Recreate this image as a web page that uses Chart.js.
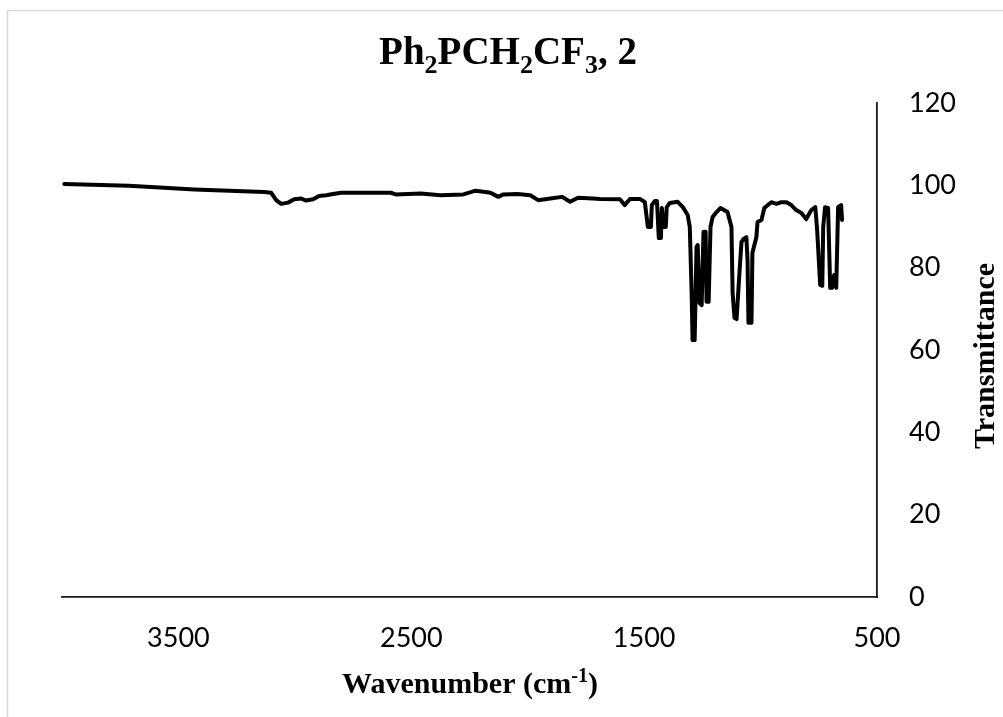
<!DOCTYPE html>
<html>
<head>
<meta charset="utf-8">
<script src="https://cdn.jsdelivr.net/npm/chart.js@4.4.1/dist/chart.umd.min.js"></script>
<style>
  body { margin: 0; background: #fff; overflow: hidden; }
  #wrap { width: 1003px; height: 717px; position: relative; }
</style>
</head>
<body>
<div id="wrap"><canvas id="ir"></canvas></div>
<script>
// IR spectrum (cm-1 / %T)
const wavenumber = [
  3990, 3713, 3431, 3132, 3102, 3080, 3059, 3029, 3003, 2973, 2952, 2922, 2896, 2866, 2836, 2802,
  2588, 2567, 2460, 2374, 2276, 2224, 2182, 2160, 2126, 2105, 2045, 1989, 1955, 1903, 1852, 1818,
  1784, 1720, 1690, 1604, 1583, 1561, 1518, 1497, 1484, 1471, 1467, 1454, 1445, 1437, 1428, 1424,
  1416, 1407, 1403, 1390, 1356, 1334, 1313, 1304, 1296, 1292, 1283, 1275, 1270, 1262, 1253, 1245,
  1236, 1232, 1223, 1215, 1206, 1189, 1172, 1142, 1125, 1120, 1112, 1103, 1090, 1082, 1073, 1061,
  1056, 1052, 1039, 1035, 1018, 1013, 996, 984, 954, 932, 911, 889, 868, 847, 825, 804,
  782, 765, 757, 744, 735, 731, 723, 710, 701, 693, 684, 675, 667, 654, 650
];
const transmittance = [
  100.3, 99.9, 99.0, 98.4, 98.2, 96.4, 95.5, 95.8, 96.6, 96.8, 96.3, 96.6, 97.4, 97.6, 97.9, 98.2,
  98.2, 97.8, 98.0, 97.6, 97.8, 98.7, 98.4, 98.2, 97.2, 97.8, 97.9, 97.6, 96.4, 96.8, 97.2, 96.0,
  97.0, 96.8, 96.7, 96.6, 95.2, 96.7, 96.7, 95.9, 89.9, 89.9, 95.2, 96.2, 96.2, 87.2, 87.2, 94.5,
  89.9, 89.9, 94.7, 95.7, 96.0, 94.7, 92.8, 89.9, 73.8, 62.4, 62.4, 85.0, 85.5, 71.4, 70.9, 88.7,
  88.7, 71.7, 71.7, 89.9, 92.3, 93.5, 94.5, 93.5, 89.9, 73.8, 67.8, 67.5, 79.4, 86.2, 87.0, 87.4,
  81.9, 66.6, 66.6, 83.6, 87.4, 91.1, 91.6, 94.5, 95.9, 95.5, 95.9, 95.9, 95.2, 94.0, 93.3, 91.8,
  94.0, 94.7, 89.1, 75.8, 75.6, 89.9, 94.7, 94.5, 75.1, 75.1, 78.2, 75.1, 94.7, 95.2, 91.6
];
const xTicks = [3500, 2500, 1500, 500];
const yTicks = [0, 20, 40, 60, 80, 100, 120];

const serif = "'Liberation Serif', 'Times New Roman', serif";
const sans = "Lato, 'Open Sans', sans-serif";

// draw a string made of normal / sub / sup pieces, centred on cx
function richText(ctx, parts, cx, baseY, size) {
  const small = Math.round(size * 0.66);
  let total = 0;
  parts.forEach(p => {
    ctx.font = "bold " + (p.s ? small : size) + "px " + serif;
    p.w = ctx.measureText(p.t).width;
    total += p.w;
  });
  let x = cx - total / 2;
  ctx.textBaseline = "alphabetic";
  ctx.textAlign = "left";
  parts.forEach(p => {
    ctx.font = "bold " + (p.s ? small : size) + "px " + serif;
    let dy = 0;
    if (p.s === "sub") dy = size * 0.24;
    if (p.s === "sup") dy = -size * 0.36;
    ctx.fillText(p.t, x, baseY + dy);
    x += p.w;
  });
}

const labels = {
  id: "labels",
  beforeDraw(chart) {
    const ctx = chart.ctx;
    ctx.save();
    ctx.strokeStyle = "#d9d9d9";
    ctx.lineWidth = 1.5;
    ctx.strokeRect(7.5, 10.5, 1100, 800);
    ctx.restore();
  },
  afterDraw(chart) {
    const ctx = chart.ctx;
    ctx.save();
    ctx.fillStyle = "#000";
    richText(ctx, [
      { t: "Ph" }, { t: "2", s: "sub" }, { t: "PCH" }, { t: "2", s: "sub" },
      { t: "CF" }, { t: "3", s: "sub" }, { t: ", 2" }
    ], 508, 64, 39);
    richText(ctx, [
      { t: "Wavenumber (cm" }, { t: "-1", s: "sup" }, { t: ")" }
    ], 470, 693, 30);
    ctx.translate(994, 356);
    ctx.rotate(-Math.PI / 2);
    richText(ctx, [{ t: "Transmittance" }], 0, 0, 30);
    ctx.restore();
  }
};

new Chart(document.getElementById("ir"), {
  type: "line",
  data: {
    datasets: [{
      data: wavenumber.map((w, i) => ({ x: w, y: transmittance[i] })),
      borderColor: "#000",
      borderWidth: 4,
      borderJoinStyle: "round",
      borderCapStyle: "round",
      pointRadius: 0,
      tension: 0,
      fill: false
    }]
  },
  options: {
    responsive: true,
    maintainAspectRatio: false,
    animation: false,
    layout: { padding: { left: 62, top: 103, right: 0, bottom: 0 } },
    plugins: { legend: { display: false }, tooltip: { enabled: false } },
    scales: {
      x: {
        type: "linear",
        reverse: true,
        min: 500,
        max: 4000,
        afterBuildTicks: s => { s.ticks = xTicks.map(v => ({ value: v })); },
        afterFit: s => { s.height = 120; },
        grid: { display: false, drawTicks: false },
        border: { display: true, color: "#1a1a1a", width: 1.8 },
        ticks: { color: "#000", font: { family: sans, size: 27 }, padding: 25, maxRotation: 0, callback: v => String(v) }
      },
      y: {
        position: "right",
        min: 0,
        max: 120,
        afterBuildTicks: s => { s.ticks = yTicks.map(v => ({ value: v })); },
        afterFit: s => { s.width = 126; },
        grid: { display: false, drawTicks: false },
        border: { display: true, color: "#1a1a1a", width: 1.8 },
        ticks: { color: "#000", font: { family: sans, size: 27 }, padding: 32, callback: v => String(v) }
      }
    }
  },
  plugins: [labels]
});
</script>
</body>
</html>
